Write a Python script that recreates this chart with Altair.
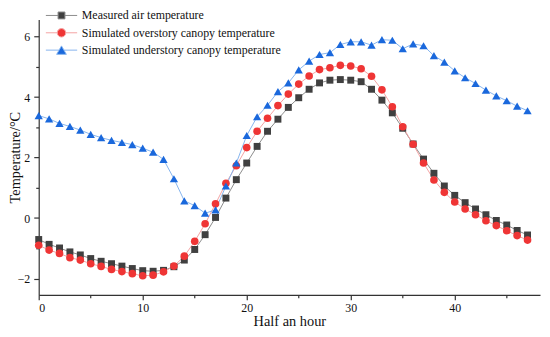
import altair as alt
import pandas as pd

half_hours = list(range(48))

measured_air = [-0.71, -0.87, -0.99, -1.12, -1.22, -1.34, -1.43, -1.51, -1.59, -1.67,
                -1.74, -1.76, -1.73, -1.61, -1.39, -1.04, -0.55, 0.02, 0.66, 1.27,
                1.82, 2.37, 2.87, 3.27, 3.66, 3.98, 4.26, 4.47, 4.56, 4.58,
                4.56, 4.51, 4.26, 3.90, 3.48, 2.97, 2.45, 1.95, 1.48, 1.06,
                0.75, 0.51, 0.30, 0.11, -0.08, -0.23, -0.41, -0.56]

overstory = [-0.90, -1.06, -1.17, -1.31, -1.39, -1.51, -1.60, -1.70, -1.77, -1.84,
             -1.91, -1.89, -1.78, -1.59, -1.26, -0.77, -0.19, 0.47, 1.15, 1.73,
             2.33, 2.87, 3.30, 3.72, 4.10, 4.43, 4.70, 4.91, 4.97, 5.05,
             5.03, 4.94, 4.69, 4.24, 3.68, 3.02, 2.44, 1.82, 1.26, 0.85,
             0.53, 0.30, 0.11, -0.09, -0.25, -0.42, -0.58, -0.73]

understory = [3.39, 3.28, 3.13, 3.03, 2.91, 2.77, 2.66, 2.57, 2.50, 2.43,
              2.31, 2.18, 1.94, 1.30, 0.57, 0.41, 0.16, 0.27, 1.06, 1.82,
              2.73, 3.35, 3.73, 4.18, 4.47, 4.90, 5.19, 5.41, 5.47, 5.74,
              5.83, 5.83, 5.72, 5.90, 5.88, 5.60, 5.76, 5.70, 5.37, 5.16,
              4.87, 4.64, 4.45, 4.23, 4.04, 3.88, 3.70, 3.55]

series_names = ["Measured air temperature",
                "Simulated overstory canopy temperature",
                "Simulated understory canopy temperature"]

line_colors = ["#8c8c8c", "#f4a3a3", "#86b4ee"]
marker_colors = ["#404040", "#ef3535", "#1a68dc"]
marker_shapes = ["square", "circle", "triangle-up"]
legend_shapes = [
    "M-1,0H-0.22M0.22,0H1M-0.22,-0.22H0.22V0.22H-0.22Z",
    "M-1,0H-0.27M0.27,0H1M-0.27,0A0.27,0.27 0 1,0 0.27,0A0.27,0.27 0 1,0 -0.27,0Z",
    "M-1,0H-0.16M0.16,0H1M0,-0.27L0.31,0.27L-0.31,0.27Z",
]

rows = []
for name, vals in zip(series_names, [measured_air, overstory, understory]):
    for x, v in zip(half_hours, vals):
        rows.append({"x": x, "value": v, "series": name})
df = pd.DataFrame(rows)

FONT = "Liberation Serif"

x_enc = alt.X("x:Q",
              scale=alt.Scale(domain=[0, 48.2], nice=False, zero=False),
              axis=alt.Axis(values=list(range(0, 50, 5)),
                            labelExpr="datum.value % 10 == 0 ? datum.label : ''",
                            tickSize={"condition": {"test": "datum.value % 10 == 0", "value": 5}, "value": 3},
                            title="Half an hour", grid=False,
                            labelPadding=3, titlePadding=1))
y_enc = alt.Y("value:Q",
              scale=alt.Scale(domain=[-2.54, 6.57], nice=False, zero=False),
              axis=alt.Axis(values=[-2, -1, 0, 1, 2, 3, 4, 5, 6],
                            labelExpr="datum.value % 2 == 0 ? datum.label : ''",
                            tickSize={"condition": {"test": "datum.value % 2 == 0", "value": 5}, "value": 3},
                            title="Temperature/°C", grid=False,
                            labelPadding=4, titleX=-23, titleBaseline="middle"))

base = alt.Chart(df)

lines = base.mark_line(strokeWidth=1).encode(
    x=x_enc, y=y_enc,
    stroke=alt.Stroke("series:N", scale=alt.Scale(domain=series_names, range=line_colors), legend=None),
    detail="series:N",
)

points = base.mark_point(filled=True, opacity=1, strokeWidth=0).encode(
    x=x_enc, y=y_enc,
    fill=alt.Fill("series:N", scale=alt.Scale(domain=series_names, range=marker_colors), legend=None),
    shape=alt.Shape("series:N", scale=alt.Scale(domain=series_names, range=marker_shapes), legend=None),
    size=alt.Size("series:N", scale=alt.Scale(domain=series_names, range=[49, 70, 95]), legend=None),
)

leg = alt.Legend(title=None, orient="none", legendX=6.5, legendY=-11.5,
                 symbolSize=1000, symbolStrokeWidth=1, clipHeight=15, rowPadding=2.5,
                 labelOffset=4, padding=0, symbolOpacity=1, labelLimit=400,
                 labelFont=FONT, labelFontSize=12, labelColor="#111")

legend_layer = base.mark_point(filled=True, opacity=0).encode(
    x=x_enc, y=y_enc,
    fill=alt.Fill("series:N", scale=alt.Scale(domain=series_names, range=marker_colors), legend=leg),
    stroke=alt.Stroke("series:N", scale=alt.Scale(domain=series_names, range=line_colors), legend=leg),
    shape=alt.Shape("series:N", scale=alt.Scale(domain=series_names, range=legend_shapes), legend=leg),
)

chart = alt.layer(lines, points, legend_layer).resolve_scale(
    stroke="independent", fill="independent", shape="independent", size="independent"
).properties(
    width=506, height=278,
    padding={"left": 31, "top": 10, "right": 2, "bottom": 38},
    autosize=alt.AutoSizeParams(type="none"),
).configure_view(stroke=None).configure_axis(
    labelFont=FONT, titleFont=FONT, labelFontSize=12, titleFontSize=14.5,
    titleFontWeight="normal", labelColor="#111", titleColor="#111",
    domainColor="#333", tickColor="#333", domainWidth=1.2, tickWidth=1.2,
)

chart.save("out.html", embed_options={"renderer": "svg", "actions": False})
